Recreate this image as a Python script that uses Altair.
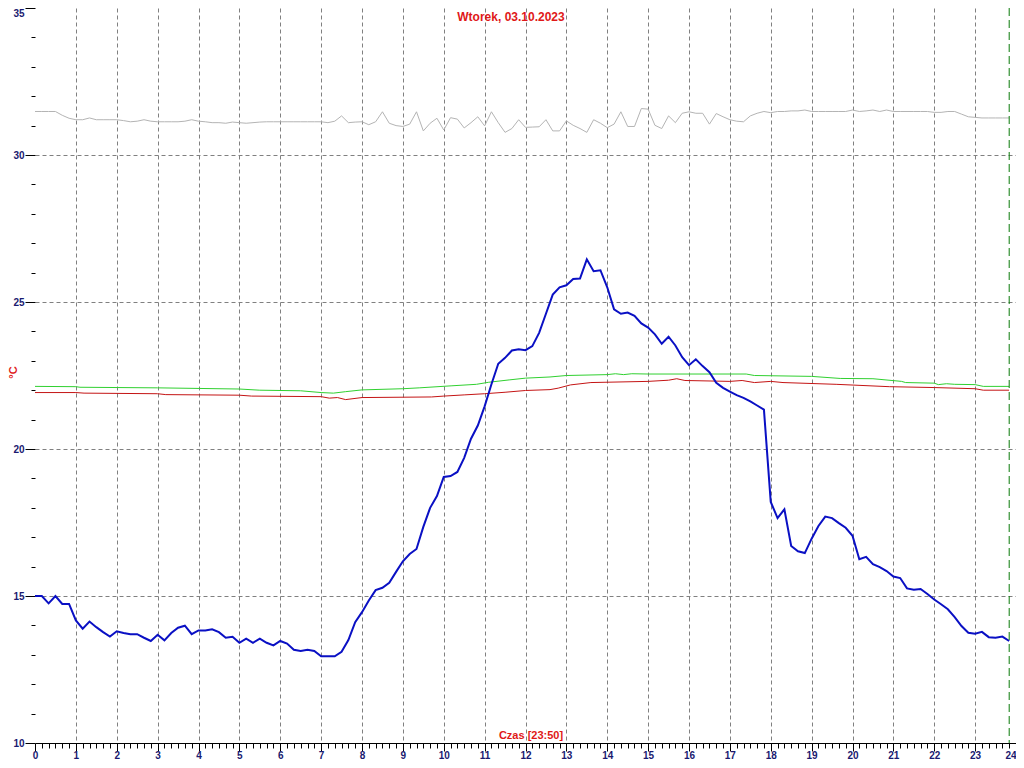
import altair as alt
import pandas as pd

# ---------------- data ----------------
# blue: outdoor temperature, one reading every 10 minutes from 0:00 to 23:50
blue_temp = [
    15.0, 15.0, 14.75, 15.0, 14.73, 14.73, 14.17, 13.89, 14.13, 13.94,
    13.77, 13.62, 13.80, 13.74, 13.70, 13.70, 13.58, 13.47, 13.68, 13.49,
    13.74, 13.92, 13.99, 13.70, 13.83, 13.83, 13.87, 13.77, 13.58, 13.61,
    13.41, 13.55, 13.41, 13.55, 13.41, 13.32, 13.47, 13.38, 13.17, 13.13,
    13.17, 13.13, 12.95, 12.95, 12.95, 13.10, 13.50, 14.11, 14.45, 14.85,
    15.20, 15.28, 15.45, 15.82, 16.18, 16.43, 16.60, 17.35, 18.00, 18.40,
    19.05, 19.08, 19.22, 19.70, 20.35, 20.80, 21.45, 22.20, 22.90, 23.10,
    23.35, 23.39, 23.36, 23.50, 23.95, 24.60, 25.25, 25.50, 25.57, 25.78,
    25.80, 26.45, 26.05, 26.08, 25.50, 24.75, 24.60, 24.64, 24.53, 24.27,
    24.13, 23.90, 23.58, 23.82, 23.52, 23.12, 22.85, 23.05, 22.82, 22.61,
    22.25, 22.08, 21.95, 21.83, 21.74, 21.62, 21.48, 21.34, 18.20, 17.65,
    17.95, 16.70, 16.52, 16.46, 16.95, 17.38, 17.70, 17.65, 17.48, 17.32,
    17.05, 16.25, 16.33, 16.08, 15.98, 15.85, 15.66, 15.61, 15.26, 15.21,
    15.24, 15.07, 14.88, 14.72, 14.55, 14.28, 13.98, 13.75, 13.72, 13.78,
    13.60, 13.58, 13.62, 13.47,
]

# gray: one reading every 10 minutes
gray_temp = [
    31.48, 31.48, 31.48, 31.48, 31.35, 31.25, 31.2, 31.2, 31.26, 31.2,
    31.2, 31.2, 31.2, 31.17, 31.13, 31.15, 31.2, 31.15, 31.13, 31.13,
    31.13, 31.13, 31.15, 31.2, 31.15, 31.13, 31.1, 31.1, 31.08, 31.12,
    31.1, 31.08, 31.1, 31.12, 31.13, 31.13, 31.13, 31.13, 31.13, 31.13,
    31.13, 31.13, 31.13, 31.1, 31.15, 31.33, 31.1, 31.12, 31.13, 31.03,
    31.13, 31.47, 31.08, 31.0, 30.97, 31.05, 31.47, 30.82, 31.08, 31.25,
    30.85, 31.27, 31.22, 30.92, 31.1, 31.3, 30.99, 31.47, 31.1, 30.77,
    30.9, 31.2, 30.94, 30.95, 30.96, 31.2, 30.82, 30.82, 31.16, 31.01,
    30.9, 30.77, 31.2, 31.08, 30.93, 31.05, 31.47, 30.97, 30.97, 31.58,
    31.56, 31.01, 30.9, 31.33, 31.1, 31.42, 31.47, 31.42, 31.42, 31.05,
    31.41, 31.3, 31.2, 31.15, 31.13, 31.33, 31.42, 31.48, 31.44, 31.48,
    31.48, 31.5, 31.5, 31.53, 31.48, 31.48, 31.48, 31.48, 31.48, 31.48,
    31.53, 31.48, 31.5, 31.53, 31.48, 31.53, 31.48, 31.48, 31.48, 31.48,
    31.48, 31.48, 31.45, 31.45, 31.48, 31.48, 31.39, 31.3, 31.28, 31.26,
    31.26, 31.26, 31.26, 31.26,
]

# green and red: slow indoor curves, read at the points where they change
green_hours = [0, 1.0, 1.1, 3.0, 5.0, 5.5, 6.5, 7.0, 7.3, 7.6, 8.0, 9.0, 9.4,
               10.2, 10.8, 11.1, 11.6, 12.0, 12.6, 13.0, 14.0, 14.2, 14.4,
               14.6, 15.0, 17.4, 17.6, 19.0, 19.7, 20.5, 21.2, 21.3, 22.0,
               22.1, 22.3, 22.5, 23.0, 23.2, 23.83]
green_temp = [22.13, 22.12, 22.1, 22.08, 22.04, 22.0, 21.98, 21.92, 21.9, 21.95,
              22.01, 22.05, 22.08, 22.15, 22.2, 22.27, 22.35, 22.41, 22.45,
              22.5, 22.53, 22.56, 22.53, 22.56, 22.55, 22.55, 22.5, 22.47,
              22.4, 22.39, 22.3, 22.26, 22.24, 22.19, 22.22, 22.2, 22.19,
              22.13, 22.13]

red_hours = [0, 1.0, 1.2, 3.0, 3.2, 5.0, 5.3, 7.0, 7.2, 7.4, 7.6, 8.0, 9.7,
             10.0, 10.5, 11.0, 11.5, 12.0, 12.6, 12.8, 13.1, 13.6, 15.0, 15.5,
             15.7, 15.9, 17.0, 17.3, 17.6, 18.0, 18.3, 19.6, 20.9, 22.0, 23.0,
             23.2, 23.83]
red_temp = [21.92, 21.92, 21.9, 21.88, 21.85, 21.83, 21.8, 21.78, 21.73, 21.75,
            21.68, 21.75, 21.77, 21.8, 21.84, 21.88, 21.93, 21.99, 22.02, 22.07,
            22.18, 22.26, 22.3, 22.34, 22.39, 22.33, 22.3, 22.33, 22.26, 22.3,
            22.26, 22.2, 22.12, 22.09, 22.05, 22.0, 22.0]

now_hour = [23 + 50 / 60]          # "Czas [23:50]" marker
title_text = ["Wtorek, 03.10.2023"]
time_text = ["Czas [23:50]"]
y_unit = "°C"

x_ticks = [i / 6 for i in range(0, 24 * 6 + 1)]   # 10-minute ticks
y_ticks = list(range(10, 36))                     # 1-degree ticks

# ---------------- tables ----------------
step_hours = [i / 6 for i in range(len(blue_temp))]
blue_df = pd.DataFrame({"hour": step_hours, "temp": blue_temp})
gray_df = pd.DataFrame({"hour": step_hours[:len(gray_temp)], "temp": gray_temp})
green_df = pd.DataFrame({"hour": green_hours, "temp": green_temp})
red_df = pd.DataFrame({"hour": red_hours, "temp": red_temp})
now_df = pd.DataFrame({"hour": now_hour})

NAVY = "#1a1a70"
RED = "#e01818"
FONT = "Liberation Sans"

x_axis = alt.Axis(
    values=x_ticks,
    title=None,
    labelExpr="datum.value % 1 == 0 ? format(datum.value, 'd') : ''",
    labelOverlap=False,
    labelFont=FONT,
    labelFontSize=10,
    labelFontWeight="bold",
    labelColor=NAVY,
    labelPadding=-1,
    labelFlush=False,
    labelAlign={"condition": {"test": "datum.value == 24", "value": "right"}, "value": "center"},
    tickColor="black",
    tickSize={"condition": {"test": "datum.value % 1 == 0", "value": 8}, "value": 5},
    domainColor="black",
    domainWidth=1,
    grid=True,
    gridColor="#808080",
    gridDash=[4, 3],
    gridWidth=1,
    gridOpacity={"condition": {"test": "datum.value % 1 == 0 && datum.value > 0 && datum.value < 24",
                               "value": 1}, "value": 0},
)

y_axis = alt.Axis(
    values=y_ticks,
    title=y_unit,
    titleColor=RED,
    titleFont=FONT,
    titleFontSize=11,
    titleFontWeight="bold",
    titleAngle=270,
    titleBaseline="middle",
    titleX=-22,
    titleY=364,
    labelExpr="datum.value % 5 == 0 ? format(datum.value, 'd') : ''",
    labelOverlap=False,
    labelFont=FONT,
    labelFontSize=10,
    labelFontWeight="bold",
    labelColor=NAVY,
    labelPadding=1,
    labelFlush=False,
    labelBaseline={"condition": {"test": "datum.value == 35", "value": "top"}, "value": "middle"},
    tickColor="black",
    tickSize={"condition": {"test": "datum.value % 5 == 0", "value": 10}, "value": 4},
    domain=False,
    grid=True,
    gridColor="#808080",
    gridDash=[4, 3],
    gridWidth=1,
    gridOpacity={"condition": {"test": "datum.value % 5 == 0 && datum.value > 10 && datum.value < 35",
                               "value": 1}, "value": 0},
)

x_enc = alt.X("hour:Q", scale=alt.Scale(domain=[0, 24], nice=False, zero=False), axis=x_axis)
y_enc = alt.Y("temp:Q", scale=alt.Scale(domain=[10, 35], nice=False, zero=False), axis=y_axis)

gray = alt.Chart(gray_df).mark_line(color="#b4b4b4", strokeWidth=1).encode(x=x_enc, y=y_enc)
green = alt.Chart(green_df).mark_line(color="#30d030", strokeWidth=1).encode(x=x_enc, y=y_enc)
red = alt.Chart(red_df).mark_line(color="#c41414", strokeWidth=1).encode(x=x_enc, y=y_enc)
blue = alt.Chart(blue_df).mark_line(color="#0a10c4", strokeWidth=2).encode(x=x_enc, y=y_enc)

now_rule = alt.Chart(now_df).mark_rule(color="#0a7a0a", strokeDash=[8, 4], strokeWidth=1).encode(
    x=x_enc
)

title_mark = alt.Chart(pd.DataFrame({"t": title_text})).mark_text(
    font=FONT, fontSize=12, fontWeight="bold", color=RED, align="center", baseline="middle"
).encode(text="t:N", x=alt.value(476), y=alt.value(9))

time_mark = alt.Chart(pd.DataFrame({"t": time_text})).mark_text(
    font=FONT, fontSize=11, fontWeight="bold", color=RED, align="center", baseline="middle"
).encode(text="t:N", x=alt.value(496), y=alt.value(728))

chart = (
    alt.layer(gray, green, red, blue, now_rule, title_mark, time_mark)
    .properties(
        width=981,
        height=735,
        autosize=alt.AutoSizeParams(type="none"),
        padding={"left": 27, "top": 0, "right": 0, "bottom": 17},
        background="white",
    )
    .configure_view(strokeWidth=0)
)

chart.save("out.html", embed_options={"renderer": "svg", "actions": False})
